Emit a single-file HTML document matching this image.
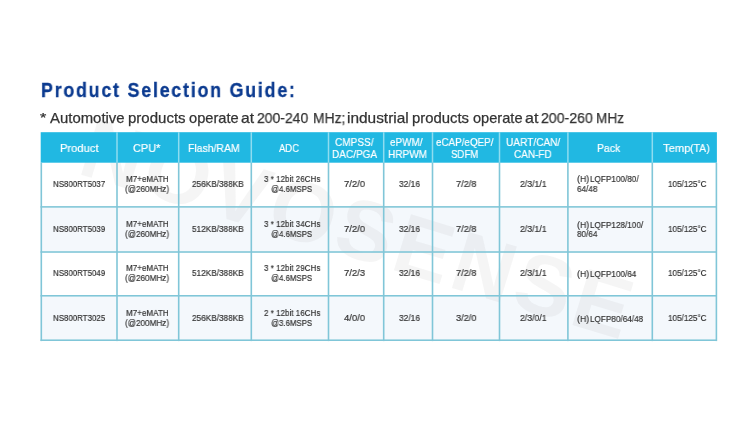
<!DOCTYPE html>
<html><head><meta charset="utf-8">
<style>
*{margin:0;padding:0;box-sizing:border-box}
html,body{width:747px;height:425px;background:#fff;overflow:hidden;font-family:"Liberation Sans",sans-serif}
svg{position:absolute;left:0;top:0}
div{position:absolute;white-space:pre;line-height:1;transform-origin:0 0;will-change:transform}
.t{font-size:20.4px;font-weight:bold;color:#0c3b90;-webkit-text-stroke:0.35px #0c3b90}
.s{font-size:14.6px;color:#333333;-webkit-text-stroke:0.25px #333333}
.h{font-size:11.8px;color:#fff;-webkit-text-stroke:0.2px #fff}
.b{font-size:9.6px;color:#333333;-webkit-text-stroke:0.2px #333333}
</style></head><body>
<svg width="747" height="425" viewBox="0 0 747 425">
<rect x="40.7" y="207.9" width="676.20" height="43.10" fill="#f4f8fc"/>
<rect x="40.7" y="296.8" width="676.20" height="42.40" fill="#f4f8fc"/>
<text x="359" y="258.2" transform="rotate(17 359 229)" font-family="Liberation Sans" font-weight="bold" font-size="85" letter-spacing="4" text-anchor="middle" fill="#b0b0b0" fill-opacity="0.12">NOVOSENSE</text>
<rect x="40.7" y="132.2" width="676.20" height="30.50" fill="#21b8e2"/>
<rect x="116.25" y="132.2" width="1.5" height="30.50" fill="#8fdcf0"/>
<rect x="177.95" y="132.2" width="1.5" height="30.50" fill="#8fdcf0"/>
<rect x="250.55" y="132.2" width="1.5" height="30.50" fill="#8fdcf0"/>
<rect x="327.75" y="132.2" width="1.5" height="30.50" fill="#8fdcf0"/>
<rect x="382.95" y="132.2" width="1.5" height="30.50" fill="#8fdcf0"/>
<rect x="431.75" y="132.2" width="1.5" height="30.50" fill="#8fdcf0"/>
<rect x="498.75" y="132.2" width="1.5" height="30.50" fill="#8fdcf0"/>
<rect x="567.15" y="132.2" width="1.5" height="30.50" fill="#8fdcf0"/>
<rect x="651.55" y="132.2" width="1.5" height="30.50" fill="#8fdcf0"/>
<rect x="40.50" y="162.7" width="1.6" height="178.40" fill="#80c6d8"/>
<rect x="116.20" y="162.7" width="1.6" height="178.40" fill="#80c6d8"/>
<rect x="177.90" y="162.7" width="1.6" height="178.40" fill="#80c6d8"/>
<rect x="250.50" y="162.7" width="1.6" height="178.40" fill="#80c6d8"/>
<rect x="327.70" y="162.7" width="1.6" height="178.40" fill="#80c6d8"/>
<rect x="382.90" y="162.7" width="1.6" height="178.40" fill="#80c6d8"/>
<rect x="431.70" y="162.7" width="1.6" height="178.40" fill="#80c6d8"/>
<rect x="498.70" y="162.7" width="1.6" height="178.40" fill="#80c6d8"/>
<rect x="567.10" y="162.7" width="1.6" height="178.40" fill="#80c6d8"/>
<rect x="651.50" y="162.7" width="1.6" height="178.40" fill="#80c6d8"/>
<rect x="715.60" y="162.7" width="1.6" height="178.40" fill="#80c6d8"/>
<rect x="40.50" y="206.10" width="676.40" height="1.6" fill="#80c6d8"/>
<rect x="40.50" y="251.20" width="676.40" height="1.6" fill="#80c6d8"/>
<rect x="40.50" y="295.00" width="676.40" height="1.6" fill="#80c6d8"/>
<rect x="40.50" y="339.40" width="676.40" height="1.6" fill="#80c6d8"/>
</svg>
<div class="t" style="left:40.53px;top:79.60px;font-size:20.4px;transform:scaleX(0.8700);letter-spacing:2.1px">Product Selection Guide:</div>
<div class="s" style="left:39.75px;top:110.80px;font-size:13px;transform:scaleX(1.2500)">*</div>
<div class="s" style="left:49.50px;top:111.30px;font-size:14.6px;transform:scaleX(1.0219)">Automotive</div>
<div class="s" style="left:128.27px;top:111.30px;font-size:14.6px;transform:scaleX(1.0291)">products</div>
<div class="s" style="left:189.00px;top:111.30px;font-size:14.6px;transform:scaleX(1.0042)">operate</div>
<div class="s" style="left:241.43px;top:111.30px;font-size:14.6px;transform:scaleX(1.0727)">at</div>
<div class="s" style="left:257.04px;top:111.30px;font-size:14.6px;transform:scaleX(0.9558)">200-240</div>
<div class="s" style="left:312.55px;top:111.30px;font-size:14.6px;transform:scaleX(0.9500)">MHz;</div>
<div class="s" style="left:346.64px;top:111.30px;font-size:14.6px;transform:scaleX(1.0561)">industrial</div>
<div class="s" style="left:412.08px;top:111.30px;font-size:14.6px;transform:scaleX(1.0182)">products</div>
<div class="s" style="left:472.80px;top:111.30px;font-size:14.6px">operate</div>
<div class="s" style="left:525.40px;top:111.30px;font-size:14.6px;transform:scaleX(1.1000)">at</div>
<div class="s" style="left:541.33px;top:111.30px;font-size:14.6px;transform:scaleX(0.9673)">200-260</div>
<div class="s" style="left:596.07px;top:111.30px;font-size:14.6px;transform:scaleX(0.9310)">MHz</div>
<div class="h" style="left:59.95px;top:142.80px;font-size:11.8px;transform:scaleX(0.9475)">Product</div>
<div class="h" style="left:132.77px;top:142.80px;font-size:11.8px;transform:scaleX(0.9250)">CPU*</div>
<div class="h" style="left:187.61px;top:142.80px;font-size:11.8px;transform:scaleX(0.8860)">Flash/RAM</div>
<div class="h" style="left:279.00px;top:142.80px;font-size:11.8px;transform:scaleX(0.8040)">ADC</div>
<div class="h" style="left:596.91px;top:142.80px;font-size:11.8px;transform:scaleX(0.8880)">Pack</div>
<div class="h" style="left:662.90px;top:142.80px;font-size:11.8px;transform:scaleX(0.9500)">Temp</div>
<div class="h" style="left:690.11px;top:142.80px;font-size:11.8px;transform:scaleX(0.8905)">(TA)</div>
<div class="h" style="left:335.35px;top:136.60px;font-size:11.8px;transform:scaleX(0.8523)">CMPSS/</div>
<div class="h" style="left:331.95px;top:148.70px;font-size:11.8px;transform:scaleX(0.8500)">DAC/PGA</div>
<div class="h" style="left:390.30px;top:136.60px;font-size:11.8px;transform:scaleX(0.8410)">ePWM/</div>
<div class="h" style="left:387.55px;top:148.70px;font-size:11.8px;transform:scaleX(0.8523)">HRPWM</div>
<div class="h" style="left:435.80px;top:136.60px;font-size:11.8px;transform:scaleX(0.8348)">eCAP/eQEP/</div>
<div class="h" style="left:450.78px;top:148.70px;font-size:11.8px;transform:scaleX(0.8187)">SDFM</div>
<div class="h" style="left:505.74px;top:136.60px;font-size:11.8px;transform:scaleX(0.8565)">UART/CAN/</div>
<div class="h" style="left:514.35px;top:148.70px;font-size:11.8px;transform:scaleX(0.8465)">CAN-FD</div>
<div class="b" style="left:53.18px;top:178.70px;font-size:9.6px;transform:scaleX(0.8242)">NS800RT5037</div>
<div class="b" style="left:126.16px;top:173.50px;font-size:9.6px;transform:scaleX(0.8408)">M7+eMATH</div>
<div class="b" style="left:125.15px;top:183.50px;font-size:9.6px;transform:scaleX(0.8490)">(@260MHz)</div>
<div class="b" style="left:192.20px;top:178.70px;font-size:9.6px;transform:scaleX(0.8567)">256KB/388KB</div>
<div class="b" style="left:263.50px;top:173.50px;font-size:9.6px;transform:scaleX(0.8388)">3 * 12bit 26CHs</div>
<div class="b" style="left:270.78px;top:183.50px;font-size:9.6px;transform:scaleX(0.8204)">@4.6MSPS</div>
<div class="b" style="left:343.62px;top:178.70px;font-size:9.6px;transform:scaleX(0.9850)">7/2/0</div>
<div class="b" style="left:398.70px;top:178.70px;font-size:9.6px;transform:scaleX(0.8750)">32/16</div>
<div class="b" style="left:455.84px;top:178.70px;font-size:9.6px;transform:scaleX(0.9600)">7/2/8</div>
<div class="b" style="left:520.20px;top:178.70px;font-size:9.6px;transform:scaleX(0.9069)">2/3/1/1</div>
<div class="b" style="left:576.98px;top:174.40px;font-size:9.6px;transform:scaleX(0.9250)">(H)</div>
<div class="b" style="left:590.35px;top:174.40px;font-size:9.6px;transform:scaleX(0.8518)">LQFP100/80/</div>
<div class="b" style="left:577.40px;top:184.00px;font-size:9.6px;transform:scaleX(0.8500)">64/48</div>
<div class="b" style="left:668.25px;top:178.70px;font-size:9.6px;transform:scaleX(0.8477)">105/125°C</div>
<div class="b" style="left:53.18px;top:223.80px;font-size:9.6px;transform:scaleX(0.8242)">NS800RT5039</div>
<div class="b" style="left:126.16px;top:218.60px;font-size:9.6px;transform:scaleX(0.8408)">M7+eMATH</div>
<div class="b" style="left:125.15px;top:228.60px;font-size:9.6px;transform:scaleX(0.8490)">(@260MHz)</div>
<div class="b" style="left:191.77px;top:223.80px;font-size:9.6px;transform:scaleX(0.8567)">512KB/388KB</div>
<div class="b" style="left:263.50px;top:218.60px;font-size:9.6px;transform:scaleX(0.8388)">3 * 12bit 34CHs</div>
<div class="b" style="left:270.78px;top:228.60px;font-size:9.6px;transform:scaleX(0.8204)">@4.6MSPS</div>
<div class="b" style="left:343.62px;top:223.80px;font-size:9.6px;transform:scaleX(0.9850)">7/2/0</div>
<div class="b" style="left:398.70px;top:223.80px;font-size:9.6px;transform:scaleX(0.8750)">32/16</div>
<div class="b" style="left:455.84px;top:223.80px;font-size:9.6px;transform:scaleX(0.9600)">7/2/8</div>
<div class="b" style="left:520.20px;top:223.80px;font-size:9.6px;transform:scaleX(0.9069)">2/3/1/1</div>
<div class="b" style="left:576.98px;top:219.50px;font-size:9.6px;transform:scaleX(0.9250)">(H)</div>
<div class="b" style="left:590.35px;top:219.50px;font-size:9.6px;transform:scaleX(0.8518)">LQFP128/100/</div>
<div class="b" style="left:577.40px;top:229.10px;font-size:9.6px;transform:scaleX(0.8500)">80/64</div>
<div class="b" style="left:668.25px;top:223.80px;font-size:9.6px;transform:scaleX(0.8477)">105/125°C</div>
<div class="b" style="left:53.18px;top:267.90px;font-size:9.6px;transform:scaleX(0.8242)">NS800RT5049</div>
<div class="b" style="left:126.16px;top:262.70px;font-size:9.6px;transform:scaleX(0.8408)">M7+eMATH</div>
<div class="b" style="left:125.15px;top:272.70px;font-size:9.6px;transform:scaleX(0.8490)">(@260MHz)</div>
<div class="b" style="left:191.77px;top:267.90px;font-size:9.6px;transform:scaleX(0.8567)">512KB/388KB</div>
<div class="b" style="left:263.50px;top:262.70px;font-size:9.6px;transform:scaleX(0.8388)">3 * 12bit 29CHs</div>
<div class="b" style="left:270.78px;top:272.70px;font-size:9.6px;transform:scaleX(0.8204)">@4.6MSPS</div>
<div class="b" style="left:343.62px;top:267.90px;font-size:9.6px;transform:scaleX(0.9850)">7/2/3</div>
<div class="b" style="left:398.70px;top:267.90px;font-size:9.6px;transform:scaleX(0.8750)">32/16</div>
<div class="b" style="left:455.84px;top:267.90px;font-size:9.6px;transform:scaleX(0.9600)">7/2/8</div>
<div class="b" style="left:520.20px;top:267.90px;font-size:9.6px;transform:scaleX(0.9069)">2/3/1/1</div>
<div class="b" style="left:576.98px;top:268.90px;font-size:9.6px;transform:scaleX(0.9250)">(H)</div>
<div class="b" style="left:590.35px;top:268.90px;font-size:9.6px;transform:scaleX(0.8518)">LQFP100/64</div>
<div class="b" style="left:668.25px;top:267.90px;font-size:9.6px;transform:scaleX(0.8477)">105/125°C</div>
<div class="b" style="left:53.18px;top:313.20px;font-size:9.6px;transform:scaleX(0.8242)">NS800RT3025</div>
<div class="b" style="left:126.16px;top:308.00px;font-size:9.6px;transform:scaleX(0.8408)">M7+eMATH</div>
<div class="b" style="left:125.15px;top:318.00px;font-size:9.6px;transform:scaleX(0.8490)">(@200MHz)</div>
<div class="b" style="left:192.20px;top:313.20px;font-size:9.6px;transform:scaleX(0.8567)">256KB/388KB</div>
<div class="b" style="left:263.50px;top:308.00px;font-size:9.6px;transform:scaleX(0.8388)">2 * 12bit 16CHs</div>
<div class="b" style="left:270.78px;top:318.00px;font-size:9.6px;transform:scaleX(0.8204)">@3.6MSPS</div>
<div class="b" style="left:344.11px;top:313.20px;font-size:9.6px;transform:scaleX(0.9850)">4/0/0</div>
<div class="b" style="left:398.70px;top:313.20px;font-size:9.6px;transform:scaleX(0.8750)">32/16</div>
<div class="b" style="left:456.32px;top:313.20px;font-size:9.6px;transform:scaleX(0.9600)">3/2/0</div>
<div class="b" style="left:520.20px;top:313.20px;font-size:9.6px;transform:scaleX(0.9069)">2/3/0/1</div>
<div class="b" style="left:576.98px;top:314.20px;font-size:9.6px;transform:scaleX(0.9250)">(H)</div>
<div class="b" style="left:590.35px;top:314.20px;font-size:9.6px;transform:scaleX(0.8518)">LQFP80/64/48</div>
<div class="b" style="left:668.25px;top:313.20px;font-size:9.6px;transform:scaleX(0.8477)">105/125°C</div>
</body></html>
